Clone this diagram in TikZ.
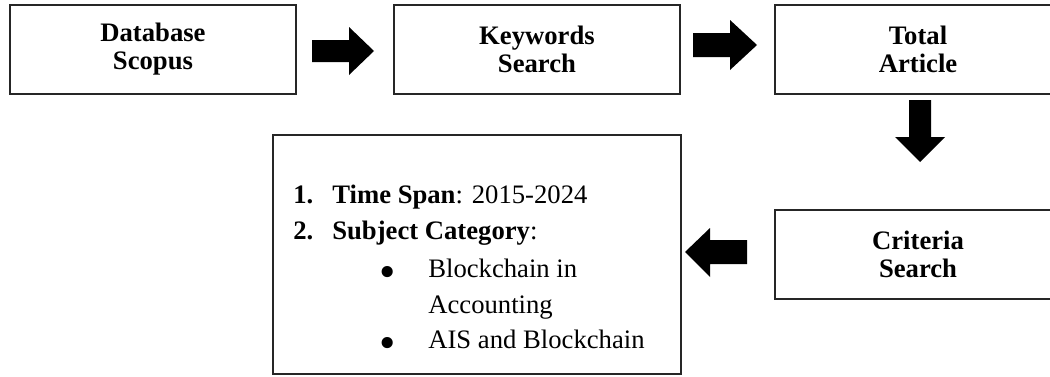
\documentclass[tikz,border=0pt]{standalone}
\usepackage{fontspec}
\setmainfont{Liberation Serif}
\newcommand{\bigdot}{\raisebox{-6.4pt}{\scalebox{1.75}{\textbullet}}}
\begin{document}
\begin{tikzpicture}[x=0.6pt, y=-0.6pt,
  stagebox/.style={draw=black!85, line width=0.8pt, minimum width=171.6pt,
    minimum height=53.4pt, inner sep=0pt, align=center,
    font=\fontsize{16}{16.8}\selectfont\bfseries},
  listtext/.style={anchor=base west, inner sep=0pt, font=\fontsize{16}{19}\selectfont},
  fatarrow/.style={fill=black}]
\useasboundingbox (0,0) rectangle (1050,376);
\clip (0,0) rectangle (1050,376);

% process stages
\node[stagebox] (db) at (153,49.5) {Database\\Scopus};
\node[stagebox] (kw) at (537,49.5) {Keywords\\Search};
\node[stagebox] (ta) at (918,49.5) {Total\\Article};
\node[stagebox] (cs) at (918,254.5) {Criteria\\Search};

% criteria box
\draw[draw=black!85, line width=0.8pt] (273,135) rectangle (681,374);
\node[listtext] (l1) at (293,203) {\makebox[23.4pt][l]{\textbf{1.}}\textbf{Time Span}: 2015-2024};
\node[listtext] (l2) at (293,239) {\makebox[23.4pt][l]{\textbf{2.}}\textbf{Subject Category}:};
\node[listtext] (b1) at (379,277) {\makebox[29.4pt][l]{\bigdot}Blockchain in};
\node[listtext] (b1c) at (428,313) {Accounting};
\node[listtext] (b2) at (379,348) {\makebox[29.4pt][l]{\bigdot}AIS and Blockchain};

% block arrows between the stages
\fill[fatarrow] (312,40) -- (349,40) -- (349,27) -- (374,51) -- (349,75) -- (349,62) -- (312,62) -- cycle;
\fill[fatarrow] (693,33) -- (730,33) -- (730,20) -- (757,45) -- (730,70) -- (730,57) -- (693,57) -- cycle;
\fill[fatarrow] (909,100) -- (909,137) -- (895,137) -- (920,162) -- (945,137) -- (931,137) -- (931,100) -- cycle;
\fill[fatarrow] (747,240) -- (710,240) -- (710,228) -- (685,252) -- (710,277) -- (710,264) -- (747,264) -- cycle;
\end{tikzpicture}
\end{document}
